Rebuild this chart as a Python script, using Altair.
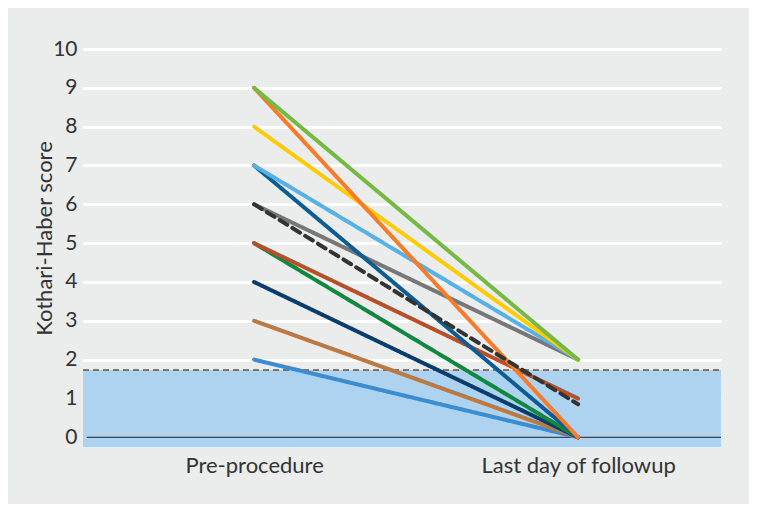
import altair as alt
import pandas as pd

categories = ["Pre-procedure", "Last day of followup"]
series_ids = ["s1", "s2", "s3", "s4", "s5", "s6", "s7", "s8", "s9", "s10", "s11", "s12"]
pre_scores = [2, 3, 4, 5, 5, 6, 7, 7, 8, 9, 9, 6]
post_scores = [0, 0, 0, 0, 1, 2, 0, 2, 2, 0, 2, 0.85]
series_colors = ["#3b8dd0", "#b97a45", "#0a3d6b", "#11883f", "#b5502a", "#777777",
                 "#0f5c91", "#58b1e4", "#fdcb0a", "#f47c2a", "#76b943", "#333333"]
series_dash = ["solid"] * 11 + ["dashed"]
threshold = 1.73
y_ticks = list(range(0, 11))

rows = []
for i, sid in enumerate(series_ids):
    rows.append({"id": sid, "t": 0, "score": pre_scores[i], "dash": series_dash[i]})
    rows.append({"id": sid, "t": 1, "score": post_scores[i], "dash": series_dash[i]})
df = pd.DataFrame(rows)

XDOM = [-0.528, 1.441]
YDOM = [-0.25, 10]
FONT = "Lato"

xscale = alt.Scale(domain=XDOM, nice=False, zero=False)
yscale = alt.Scale(domain=YDOM, nice=False, zero=False)

label_expr = f"datum.value == 0 ? '{categories[0]}' : '{categories[1]}'"

xaxis = alt.Axis(values=[0, 1], labelExpr=label_expr, title=None, domain=False,
                 ticks=False, grid=False, labelFontSize=22, labelColor="#333333",
                 labelFont=FONT, labelPadding=8, labelLimit=400)
yaxis = alt.Axis(values=y_ticks, title="Kothari-Haber score", domain=False, ticks=False,
                 grid=True, gridColor="#ffffff", gridWidth=3, labelFontSize=21,
                 labelColor="#333333", labelFont=FONT, labelPadding=6, labelOverlap=False,
                 titleFontSize=22, titleFont=FONT, titleColor="#333333",
                 titleFontWeight="normal", titleX=-27, titleY=189)

base_df = pd.DataFrame({"x1": [XDOM[0]], "x2": [XDOM[1]], "y1": [YDOM[0]], "y2": [threshold]})

band = alt.Chart(base_df).mark_rect(color="#aed3f0").encode(
    x=alt.X("x1:Q", scale=xscale, axis=xaxis), x2="x2:Q",
    y=alt.Y("y1:Q", scale=yscale, axis=yaxis), y2="y2:Q")

dash_rule = alt.Chart(base_df).mark_rule(
    color="#555555", strokeDash=[6, 4], strokeWidth=1.5).encode(
    x=alt.X("x1:Q", scale=xscale, axis=xaxis), x2="x2:Q",
    y=alt.Y("y2:Q", scale=yscale, axis=yaxis))

zero_df = pd.DataFrame({"x1": [XDOM[0] + 0.012], "x2": [XDOM[1]], "y": [0]})
zero_rule = alt.Chart(zero_df).mark_rule(color="#222222", strokeWidth=1).encode(
    x=alt.X("x1:Q", scale=xscale, axis=xaxis), x2="x2:Q",
    y=alt.Y("y:Q", scale=yscale, axis=yaxis))

lines = alt.Chart(df).mark_line(strokeWidth=4, strokeCap="round").encode(
    x=alt.X("t:Q", scale=xscale, axis=xaxis),
    y=alt.Y("score:Q", scale=yscale, axis=yaxis),
    color=alt.Color("id:N", scale=alt.Scale(domain=series_ids, range=series_colors), legend=None),
    strokeDash=alt.StrokeDash("dash:N", scale=alt.Scale(domain=["solid", "dashed"], range=[[1, 0], [9, 6]]), legend=None),
    detail="id:N",
    order=alt.Order("t:Q"),
)

chart = alt.layer(band, dash_rule, zero_rule, lines).properties(
    width=638, height=398,
    padding={"left": 75, "top": 41, "right": 28, "bottom": 57},
    autosize=alt.AutoSizeParams(type="none"),
    background="#ebecec",
).configure_view(stroke=None, fill="#ebecec")

chart.save("out.html", embed_options={"renderer": "svg", "actions": False})
